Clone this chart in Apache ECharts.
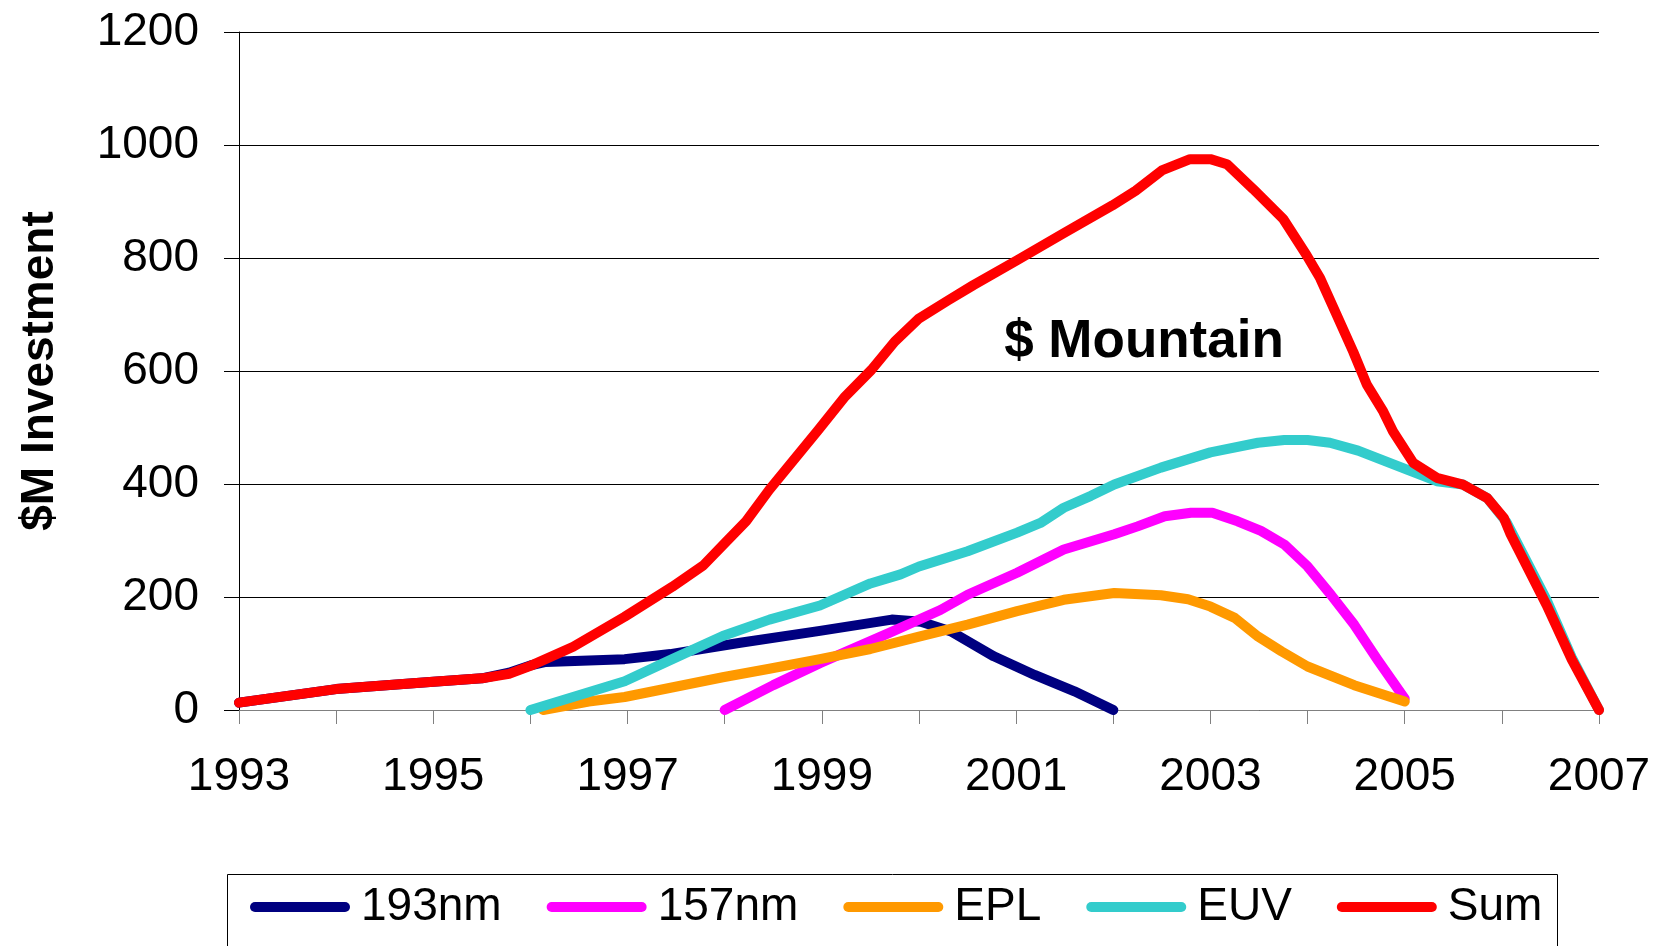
<!DOCTYPE html>
<html>
<head>
<meta charset="utf-8">
<script src="https://cdn.jsdelivr.net/npm/echarts@6/dist/echarts.min.js"></script>
<style>
html,body{margin:0;padding:0;background:#fff;}
#chart{width:1657px;height:946px;}
</style>
</head>
<body>
<div id="chart"></div>
<script>
// ---- data (year, $M) ----
const seriesNames = ['193nm', '157nm', 'EPL', 'EUV', 'Sum'];
const seriesColors = ['#000080', '#FF00FF', '#FF9900', '#33CCCC', '#FF0000'];

const data193nm = [[1993,13],[1994,37],[1995,50],[1995.5,56],[1995.78,66],[1996,79],[1996.16,85],[1996.97,90],
  [1997.44,99],[1998.16,119],[1998.98,140],[1999.72,160],[2000.02,156],[2000.33,139],[2000.77,95],
  [2001.19,62],[2001.6,33],[2002,0]];

const data157nm = [[1998,0],[1998.5,44],[1998.98,83],[1999.7,137],[2000.22,177],[2000.5,204],[2001.01,243],
  [2001.49,284],[2002.01,311],[2002.25,325],[2002.53,343],[2002.8,349],[2003.02,349],[2003.28,334],
  [2003.52,317],[2003.76,293],[2004,254],[2004.24,204],[2004.48,151],[2004.72,89],[2005,20]];

const dataEPL = [[1996.13,0],[1996.6,15],[1996.97,23],[1997.98,58],[1998.46,73],[1998.98,90],[1999.5,108],
  [2000,130],[2000.5,151],[2001.01,175],[2001.49,195],[2002.01,207],[2002.49,203],[2002.77,196],
  [2003,183],[2003.25,163],[2003.49,130],[2003.73,104],[2004,77],[2004.48,44],[2005,15]];

const dataEUV = [[1996,0],[1996.97,51],[1997.46,90],[1997.98,131],[1998.46,160],[1998.98,185],[1999.5,224],
  [1999.81,240],[2000,254],[2000.5,281],[2001.01,314],[2001.25,331],[2001.49,358],[2001.77,379],
  [2002.01,399],[2002.49,429],[2003,456],[2003.49,473],[2003.76,478],[2004,478],[2004.23,473],
  [2004.52,459],[2005.03,425],[2005.33,405],[2005.6,399],[2005.85,375],[2006.05,332],[2006.46,195],
  [2006.72,93],[2007,0]];

const dataSum = [[1993,13],[1994,37],[1995,50],[1995.5,56],[1995.78,64],[1996,78],[1996.44,112],[1996.97,165],
  [1997.46,218],[1997.78,256],[1998,295],[1998.22,334],[1998.46,390],[1998.96,495],[1999.24,555],
  [1999.51,602],[1999.75,652],[2000,693],[2000.3,725],[2000.56,752],[2001.01,796],[2001.48,843],
  [2001.99,893],[2002.23,919],[2002.5,955],[2002.79,975],[2003,975],[2003.17,966],[2003.44,922],
  [2003.75,869],[2003.99,805],[2004.13,764],[2004.3,699],[2004.47,634],[2004.61,576],[2004.78,528],
  [2004.88,493],[2005.09,437],[2005.33,411],[2005.6,399],[2005.85,375],[2006.02,340],[2006.09,311],
  [2006.46,186],[2006.72,89],[2007,0]];

const xMin = 1993, xMax = 2007, xStep = 1;
const yMin = 0, yMax = 1200, yStep = 200;
const yTitle = '$M Investment';
const annotation = '$ Mountain';

const allData = [data193nm, data157nm, dataEPL, dataEUV, dataSum];

const FONT = "'Liberation Sans', Arial, Helvetica, sans-serif";
const chart = echarts.init(document.getElementById('chart'), null, {renderer: 'canvas'});

const pill = 'path://M5,0 L95,0 A5,5 0 0 1 95,10 L5,10 A5,5 0 0 1 5,0 Z';

chart.setOption({
  animation: false,
  backgroundColor: '#ffffff',
  grid: {left: 239, right: 58, top: 32, bottom: 236, containLabel: false},
  xAxis: {
    type: 'value', min: xMin, max: xMax, interval: xStep,
    axisLine: {show: true, lineStyle: {color: '#808080', width: 1}},
    axisTick: {show: true, length: 14, lineStyle: {color: '#808080', width: 1}},
    splitLine: {show: false},
    axisLabel: {
      show: true, margin: 44, color: '#000', fontFamily: FONT, fontSize: 46,
      showMinLabel: true, showMaxLabel: true,
      formatter: v => (Math.round(v) % 2 === 1 ? String(Math.round(v)) : '')
    }
  },
  yAxis: {
    type: 'value', min: yMin, max: yMax, interval: yStep,
    axisLine: {show: true, lineStyle: {color: '#000', width: 1}},
    axisTick: {show: true, length: 15, lineStyle: {color: '#000', width: 1}},
    splitLine: {show: true, lineStyle: {color: '#000', width: 1}},
    axisLabel: {margin: 40, color: '#000', fontFamily: FONT, fontSize: 46,
      formatter: v => String(Math.round(v))}
  },
  legend: {
    left: 250, top: 884, padding: 0, itemGap: 45,
    itemWidth: 100, itemHeight: 10, icon: pill,
    textStyle: {color: '#000', fontFamily: FONT, fontSize: 46, padding: [0, 0, 0, 6]},
    data: seriesNames
  },
  graphic: [
    {type: 'rect', shape: {x: 227.5, y: 874.5, width: 1330, height: 120},
     style: {fill: 'none', stroke: '#000', lineWidth: 1}, silent: true, z: -1},
    {type: 'text', x: 40, y: 371, rotation: Math.PI / 2,
     style: {text: yTitle, font: 'bold 46px ' + FONT, fill: '#000', textAlign: 'center', textVerticalAlign: 'middle'}},
    {type: 'text', x: 1144, y: 342,
     style: {text: annotation, font: 'bold 53px ' + FONT, fill: '#000', textAlign: 'center', textVerticalAlign: 'middle'}}
  ],
  series: seriesNames.map((n, i) => ({
    name: n, type: 'line', data: allData[i], symbol: 'none', smooth: false,
    color: seriesColors[i],
    lineStyle: {color: seriesColors[i], width: 10, cap: 'round', join: 'round'},
    z: 2 + i
  }))
});
</script>
</body>
</html>
